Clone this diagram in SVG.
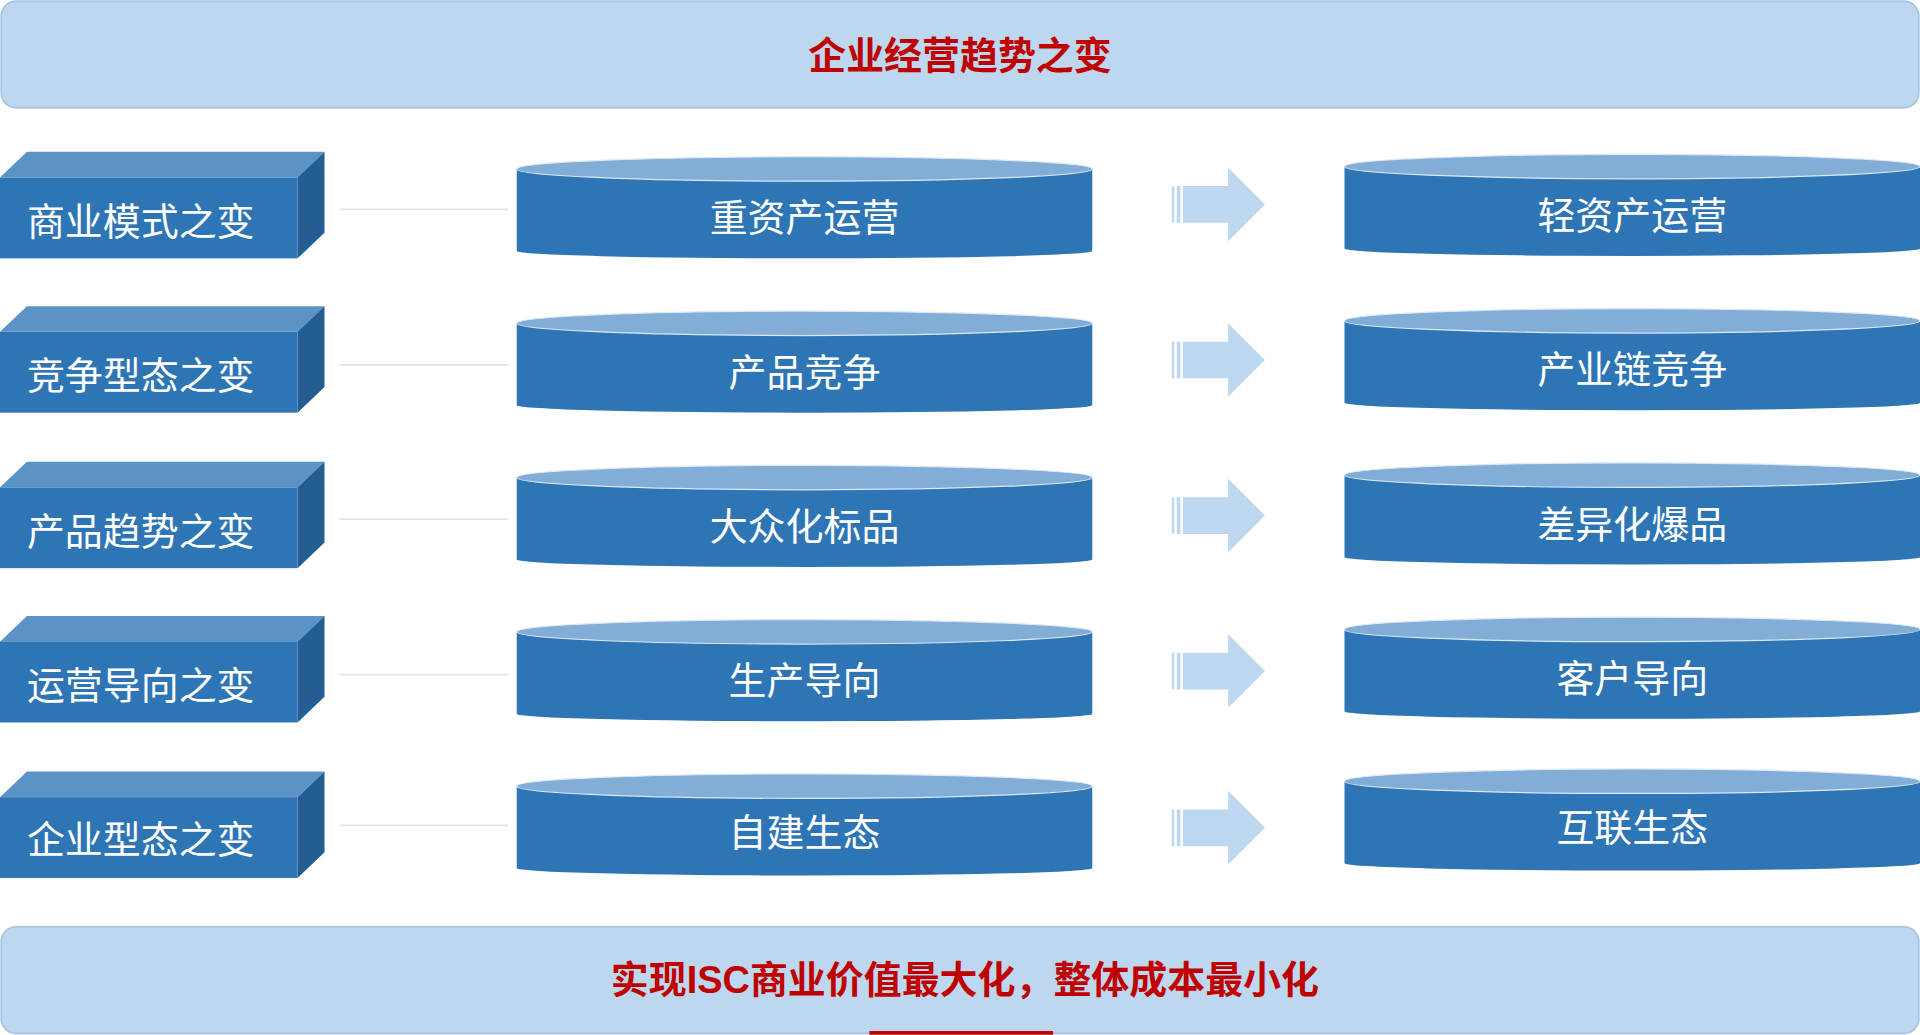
<svg xmlns="http://www.w3.org/2000/svg" width="1920" height="1035" viewBox="0 0 1920 1035">
<defs>
<style>
.ban{fill:#bdd7ee;stroke:#a9c6e4;stroke-width:1.5}
.rt{font-family:"Liberation Sans","Noto Sans CJK SC",sans-serif;font-weight:bold;font-size:31px;fill:#c00000;text-anchor:middle}
.wt{font-family:"Noto Sans CJK SC",sans-serif;font-size:31px;fill:#fff}
.ct{text-anchor:middle}
.front{fill:#2e75b6}.top{fill:#5b93c6}.side{fill:#245d91}
.cb{fill:#2e75b6}.ctop{fill:#82add6;stroke:#dce8f5;stroke-width:1}
.ln{stroke:#dde4f2;stroke-width:1.5}
.ar{fill:#bdd7ee}
</style>
<g id="box"><polygon class="top" points="0,21 22,0 265,0 243,21"/><polygon class="side" points="243,21 265,0 265,66 243,87"/><rect class="front" x="0" y="21" width="243" height="66"/></g>
<g id="cyl"><path class="cb" d="M0,10 L470,10 L470,77 A235,6 0 0 1 0,77 Z"/><ellipse class="ctop" cx="235" cy="10" rx="235" ry="10"/></g>
<g id="arr"><rect class="ar" x="957" y="0" width="2" height="30"/><rect class="ar" x="961" y="0" width="3" height="30"/><polygon class="ar" points="966,0 1003,0 1003,-15 1033,15 1003,45 1003,30 966,30"/></g>
</defs>
<rect width="1920" height="1035" fill="#fff"/>
<g transform="scale(1.2245)">
<g id="header"><rect class="ban" x="1" y="1" width="1566" height="87" rx="12"/><text class="rt" x="784" y="56">企业经营趋势之变</text></g>
<g id="connectors">
<line class="ln" x1="277" y1="171" x2="415" y2="171"/>
<line class="ln" x1="277" y1="298" x2="415" y2="298"/>
<line class="ln" x1="277" y1="424" x2="415" y2="424"/>
<line class="ln" x1="277" y1="551" x2="415" y2="551"/>
<line class="ln" x1="277" y1="674" x2="415" y2="674"/>
<use href="#arr" y="152"/><use href="#arr" y="279"/><use href="#arr" y="406"/><use href="#arr" y="533"/><use href="#arr" y="661"/>
</g>
<g id="row1"><use href="#box" y="124"/><text class="wt" x="22" y="192">商业模式之变</text>
<use href="#cyl" x="422" y="128"/><text class="wt ct" x="657" y="189">重资产运营</text>
<use href="#cyl" x="1098" y="126"/><text class="wt ct" x="1333" y="187">轻资产运营</text></g>
<g id="row2"><use href="#box" y="250"/><text class="wt" x="22" y="318">竞争型态之变</text>
<use href="#cyl" x="422" y="254"/><text class="wt ct" x="657" y="315">产品竞争</text>
<use href="#cyl" x="1098" y="252"/><text class="wt ct" x="1333" y="313">产业链竞争</text></g>
<g id="row3"><use href="#box" y="377"/><text class="wt" x="22" y="445">产品趋势之变</text>
<use href="#cyl" x="422" y="380"/><text class="wt ct" x="657" y="441">大众化标品</text>
<use href="#cyl" x="1098" y="378"/><text class="wt ct" x="1333" y="439">差异化爆品</text></g>
<g id="row4"><use href="#box" y="503"/><text class="wt" x="22" y="571">运营导向之变</text>
<use href="#cyl" x="422" y="506"/><text class="wt ct" x="657" y="567">生产导向</text>
<use href="#cyl" x="1098" y="504"/><text class="wt ct" x="1333" y="565">客户导向</text></g>
<g id="row5"><use href="#box" y="630"/><text class="wt" x="22" y="697">企业型态之变</text>
<use href="#cyl" x="422" y="632"/><text class="wt ct" x="657" y="691">自建生态</text>
<use href="#cyl" x="1098" y="628"/><text class="wt ct" x="1333" y="687">互联生态</text></g>
<g id="footer"><rect class="ban" x="1" y="757" width="1566" height="87" rx="12"/><text class="rt" x="788" y="811">实现ISC商业价值最大化，整体成本最小化</text><rect x="710" y="842" width="150" height="3" fill="#c00000"/></g>
</g>
</svg>
